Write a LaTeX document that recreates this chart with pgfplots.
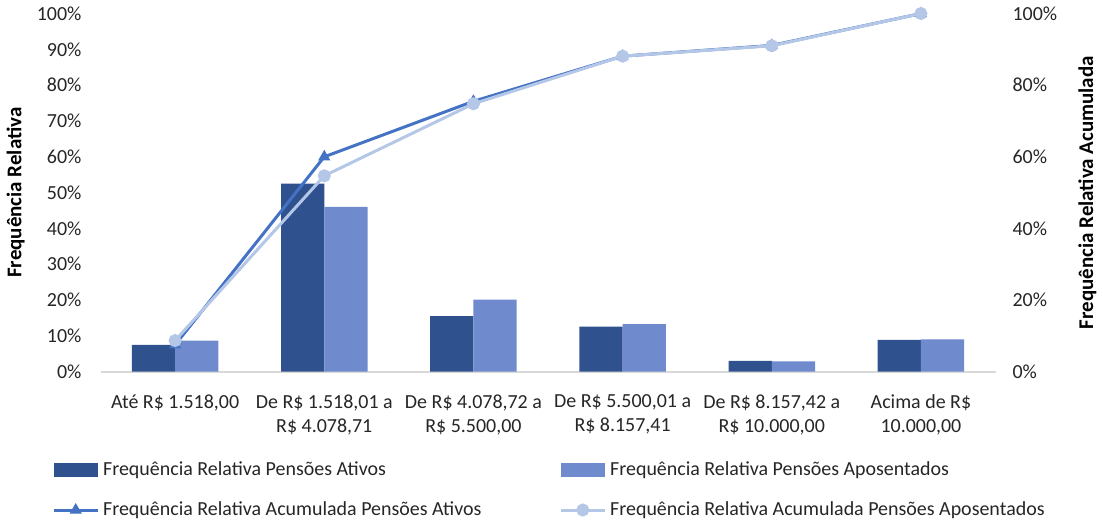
\documentclass[border=0pt]{standalone}
\usepackage{pgfplots}
\pgfplotsset{compat=1.18}
\usepackage{fontspec}
\setmainfont{Carlito}
\definecolor{bardark}{HTML}{2F528F}
\definecolor{barlight}{HTML}{6F8BCD}
\definecolor{linedark}{HTML}{4472C4}
\definecolor{linelight}{HTML}{B4C7E7}
\definecolor{axgray}{HTML}{D9D9D9}
\definecolor{txt}{HTML}{262626}
\begin{document}
\begin{tikzpicture}
\pgfplotsset{
  barlegend/.style={legend image code/.code={\fill[##1] (0pt,-3.5pt) rectangle (22pt,3.5pt);}},
  linelegend/.style={legend image code/.code={\draw[mark repeat=2,mark phase=2,##1] plot coordinates {(0pt,0pt) (11pt,0pt) (22pt,0pt)};}},
}
\begin{axis}[
  scale only axis,
  width=448.5pt, height=179.5pt,
  xmin=-0.5, xmax=5.5, ymin=0, ymax=100,
  axis x line*=bottom, axis y line*=left,
  x axis line style={draw=axgray, line width=0.8pt},
  y axis line style={draw=none},
  xtick={0,1,2,3,4,5},
  xticklabels={{Até R\$ 1.518,00}, {De R\$ 1.518,01 a\\R\$ 4.078,71}, {De R\$ 4.078,72 a\\R\$ 5.500,00}, {De R\$ 5.500,01 a\\R\$ 8.157,41}, {De R\$ 8.157,42 a\\R\$ 10.000,00}, {Acima de R\$\\10.000,00}},
  xticklabel style={align=center, text=txt, font=\fontsize{10}{12}\selectfont, yshift=-8pt},
  major tick length=0pt,
  ytick={0,10,...,100},
  yticklabel={\pgfmathprintnumber{\tick}\%},
  /pgf/number format/assume math mode=true,
  yticklabel style={text=txt, font=\fontsize{10}{12}\selectfont, xshift=-6pt},
  ylabel={\textbf{Frequência Relativa}},
  ylabel style={at={(axis description cs:-0.0948,0.5)}, anchor=center, rotate=0, font=\fontsize{10.5}{12}\selectfont},
  legend columns=2,
  legend cell align=left,
  legend style={draw=none, fill=none, at={(axis description cs:-0.061,-0.228)}, anchor=north west,
    font=\fontsize{10}{12}\selectfont, text=txt, row sep=7.5pt,
    /tikz/every even column/.append style={column sep=37pt}},
]
\addplot[ybar, bar width=0.29, bar shift=-0.145, fill=bardark, draw=none, barlegend]
  coordinates {(0,7.5) (1,52.5) (2,15.5) (3,12.6) (4,3.0) (5,8.9)};
\addlegendentry{Frequência Relativa Pensões Ativos}
\addplot[ybar, bar width=0.29, bar shift=0.145, fill=barlight, draw=none, barlegend]
  coordinates {(0,8.7) (1,46.0) (2,20.1) (3,13.3) (4,2.9) (5,9.0)};
\addlegendentry{Frequência Relativa Pensões Aposentados}
\addplot[linedark, line width=1.5pt, mark=triangle*, mark size=3pt, mark options={fill=linedark, draw=linedark, line width=0.5pt}, linelegend]
  coordinates {(0,7.5) (1,60.0) (2,75.5) (3,88.1) (4,91.1) (5,100)};
\addlegendentry{Frequência Relativa Acumulada Pensões Ativos}
\addplot[linelight, line width=1.5pt, mark=*, mark size=2.5pt, mark options={fill=linelight, draw=linelight}, linelegend]
  coordinates {(0,8.7) (1,54.7) (2,74.8) (3,88.1) (4,91.0) (5,100)};
\addlegendentry{Frequência Relativa Acumulada Pensões Aposentados}
\end{axis}
\begin{axis}[
  scale only axis,
  width=448.5pt, height=179.5pt,
  xmin=-0.5, xmax=5.5, ymin=0, ymax=100,
  axis x line=none, axis y line*=right,
  y axis line style={draw=none},
  major tick length=0pt,
  ytick={0,20,...,100},
  yticklabel={\pgfmathprintnumber{\tick}\%},
  /pgf/number format/assume math mode=true,
  yticklabel style={text=txt, font=\fontsize{10}{12}\selectfont, xshift=5pt},
  ylabel={\textbf{Frequência Relativa Acumulada}},
  ylabel style={at={(axis description cs:1.1026,0.5)}, anchor=center, rotate=0, font=\fontsize{10.5}{12}\selectfont},
]
\addplot[draw=none] coordinates {(0,0)};
\end{axis}
\end{tikzpicture}
\end{document}
